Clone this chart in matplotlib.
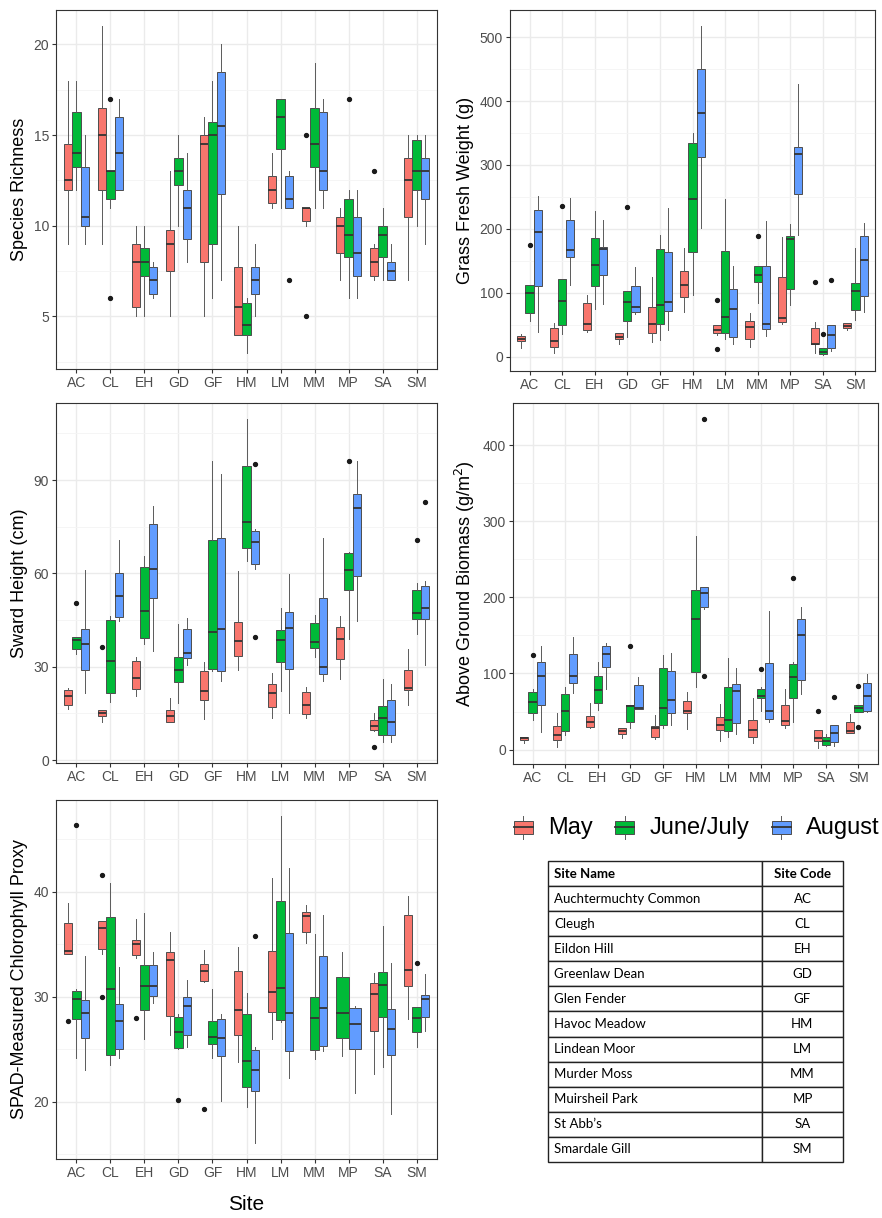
import matplotlib
matplotlib.use("Agg")
import matplotlib.pyplot as plt
from matplotlib.patches import Rectangle
from matplotlib.lines import Line2D
from matplotlib.legend_handler import HandlerBase

plt.rcParams['font.family'] = ['Liberation Sans', 'DejaVu Sans']

sites = ["AC", "CL", "EH", "GD", "GF", "HM", "LM", "MM", "MP", "SA", "SM"]
periods = ["May", "June/July", "August"]
colors = ["#F8766D", "#00BA38", "#619CFF"]

site_names = ["Auchtermuchty Common", "Cleugh", "Eildon Hill", "Greenlaw Dean", "Glen Fender",
              "Havoc Meadow", "Lindean Moor", "Murder Moss", "Muirsheil Park", "St Abb\u2019s",
              "Smardale Gill"]

# box stats per site: (lower whisker, q1, median, q3, upper whisker)
# species richness
rich_may = [(9, 12, 12.5, 14.5, 18), (9, 12, 15, 16.5, 21), (5, 5.5, 8, 9, 10), (5, 7.5, 9, 9.75, 13),
            (5, 8, 14.5, 15, 16), (4, 4, 5.5, 7.75, 10), (11, 11.25, 12, 12.75, 14), (10, 10.25, 11, 11, 11),
            (7, 8.5, 10, 10.5, 11), (7, 7.25, 8, 8.75, 9), (7, 10.5, 12.5, 13.75, 15)]
rich_jun = [(12, 13.25, 14, 16.25, 18), (11, 11.5, 13, 13, 13), (5, 7.25, 8, 8.75, 10), (10, 12.25, 13, 13.75, 15),
            (6, 9, 15, 15.75, 18), (3, 4, 4.5, 5.75, 6), (11, 14.25, 16, 17, 17), (11, 13.25, 14.5, 16.5, 19),
            (6, 8.25, 9.5, 11.5, 12), (7, 8.25, 9.5, 10, 11), (10, 12, 13, 14.75, 15)]
rich_aug = [(9, 10, 10.5, 13.25, 15), (12, 12, 14, 16, 17), (6, 6.25, 7, 7.75, 8), (8, 9.25, 11, 12, 14),
            (7, 11.75, 15.5, 18.5, 20), (5, 6.25, 7, 7.75, 9), (11, 11, 11.5, 12.75, 13), (11, 12, 13, 16.25, 17),
            (6, 7.25, 8.5, 10.5, 12), (7, 7, 7.5, 8, 9), (9, 11.5, 13, 13.75, 15)]
rich_out = [("CL", "June/July", 17), ("CL", "June/July", 6), ("LM", "August", 7), ("MM", "May", 15),
            ("MM", "May", 5), ("MP", "June/July", 17), ("SA", "May", 13)]

# grass fresh weight (g)
gfw_may = [(13, 24.5, 27, 32, 36), (5, 15.6, 24.5, 44, 52), (39, 41, 51.6, 84, 97), (20, 27, 31, 36.5, 37.5),
           (23, 37.5, 51, 77.7, 124), (69, 93, 112, 134, 170.5), (34, 36.5, 42, 49.5, 50), (15, 28, 46, 56, 68),
           (50.6, 54, 60, 124, 187), (5, 19, 20, 45, 54), (41, 45, 48, 52, 52)]
gfw_jun = [(55, 68, 99, 111.6, 112), (36, 49, 87, 121.5, 121.5), (75, 110.5, 143, 185.6, 228), (31, 55, 85, 102, 102),
           (25.5, 51, 80, 168, 191), (96, 164, 246.6, 335, 350), (27, 37.5, 62, 166, 247), (84.5, 117, 128, 141, 141),
           (80, 105, 184, 189, 208), (3, 4.7, 7.3, 13, 13), (57, 73, 102, 115, 170.5)]
gfw_aug = [(39, 110, 195, 230, 251), (112, 156, 167, 214, 248), (83, 128, 168, 172, 214), (67, 70, 78, 110, 140),
           (41, 71, 86, 163, 232.5), (201, 312, 380.6, 451, 517), (20, 31, 75, 106, 142), (32, 43, 51.6, 141, 213),
           (190, 255, 316.5, 328, 426.5), (8, 14, 33, 50, 50), (69, 95, 150.7, 188, 209.6)]
gfw_out = [("AC", "June/July", 175), ("CL", "June/July", 235), ("GD", "June/July", 233.6), ("LM", "May", 89),
           ("LM", "May", 11.5), ("MM", "June/July", 189), ("SA", "May", 117), ("SA", "June/July", 36),
           ("SA", "August", 120)]

# sward height (cm)
sh_may = [(16.5, 17.6, 20.7, 22.6, 23), (12.2, 14, 15.2, 16, 16), (20.7, 22.7, 26.5, 31.9, 33),
          (12.2, 12.2, 14.1, 16.2, 19.9), (13.2, 19.3, 22.3, 28.6, 31.4), (28.9, 33.4, 38.3, 44.4, 60.6),
          (13.6, 17.1, 21.7, 24.3, 28), (13.4, 14.8, 17.7, 21.8, 23.5), (26.2, 32.5, 39, 42.7, 46.2),
          (9.3, 9.5, 10.8, 12.8, 15.1), (17.7, 22.4, 23.1, 28.9, 35.7)]
sh_jun = [(34, 35.6, 38.6, 39.6, 39.6), (18.5, 21.4, 31.9, 45, 46.3), (37.4, 39.2, 48, 62, 65.5),
          (18.2, 25, 28.8, 33, 43.6), (28.7, 29.2, 41.3, 70.6, 96), (64, 68, 76.5, 94.4, 109.5),
          (22.3, 31.5, 38.6, 41.7, 48.8), (33, 36, 37.8, 44, 46.6), (39, 54.6, 61, 66.6, 66.8),
          (5.8, 8.2, 13.4, 17.3, 26.1), (40.6, 45.3, 47.1, 54.8, 57)]
sh_aug = [(21.5, 28.9, 37.2, 42.2, 61), (44.6, 46, 52.7, 60, 70.7), (35, 52, 61.3, 75.8, 81.6),
          (30.5, 32.9, 34.4, 42, 45.5), (25.4, 28.7, 42, 71.5, 92), (61.4, 63.1, 70.1, 73.5, 74.2),
          (15.1, 29.2, 42.4, 47.5, 59.8), (25.5, 27.6, 29.8, 52, 71.5), (44.8, 59.2, 80.9, 85.4, 96.2),
          (5.8, 8.2, 12.2, 19.3, 24.5), (30.6, 45.3, 48.8, 55.9, 57.6)]
sh_out = [("AC", "June/July", 50.4), ("CL", "May", 36.4), ("HM", "August", 95.3), ("HM", "August", 39.5),
          ("MP", "June/July", 96.1), ("SA", "May", 4.3), ("SM", "June/July", 70.6), ("SM", "August", 83)]

# above ground biomass (g/m2)
agb_may = [(9, 13, 14.8, 16.6, 16.6), (4, 12.7, 19.2, 30.5, 47.6), (28.4, 30, 35.8, 43.6, 60.6),
           (14.8, 20.5, 24, 28, 28.8), (13.5, 16.6, 28.8, 30.5, 45), (26.6, 48.4, 51, 63.3, 75),
           (11.3, 25.7, 31.8, 42.3, 59.3), (9.2, 16.6, 25.7, 38.8, 67.2), (28.8, 32.7, 37.5, 58.5, 79),
           (2.6, 11.3, 15.7, 25.7, 25.7), (21.4, 21.4, 24, 36.2, 46.7)]
agb_jun = [(39, 47.5, 62, 76, 79.4), (19.2, 24.4, 50.6, 73.3, 82.5), (52, 61, 77.7, 96.4, 114.7),
           (28, 36.6, 57.6, 58.5, 58.5), (28, 32.7, 54, 106.5, 124.8), (81.6, 102.5, 172, 209, 281),
           (17, 24.4, 39.3, 82.5, 120.4), (51, 67.2, 71, 79, 81.6), (36, 67.6, 95.5, 112, 115),
           (4.8, 6.1, 11.3, 17, 20), (48.9, 48.9, 54, 58.5, 58.5)]
agb_aug = [(23, 59, 97, 115, 136.6), (73.7, 86.8, 96.9, 125, 147.5), (79, 109, 126, 136.6, 140.5),
           (52.8, 52.8, 55, 84.2, 94.7), (32.7, 48.4, 64.6, 103, 127.4), (184, 187.6, 206, 214, 214),
           (20, 34.5, 76.8, 85.5, 107.3), (35.8, 40.6, 50.2, 113.9, 181.5), (72.4, 91, 151, 172, 187.6),
           (4.8, 10.5, 22.3, 31.8, 31.8), (48.9, 51, 70.7, 86.8, 99)]
agb_out = [("AC", "June/July", 124.8), ("GD", "June/July", 136.6), ("HM", "August", 433.7),
           ("HM", "August", 96), ("MM", "June/July", 105.6), ("MP", "June/July", 225.6), ("SA", "May", 50.2),
           ("SA", "August", 69.4), ("SM", "June/July", 83.8), ("SM", "June/July", 30.1)]

# SPAD chlorophyll proxy (no May data for MP)
spad_may = [(34.05, 34.05, 34.4, 37.0, 38.96), (34.1, 34.55, 36.6, 37.2, 37.2), (33.7, 33.96, 35, 35.4, 37.4),
            (26.4, 28.2, 33.5, 34.3, 36.2), (31.4, 31.5, 32.5, 33.13, 34.5), (23.8, 26.4, 28.7, 32.5, 34.7),
            (26, 28.6, 30.5, 34.4, 41.36), (35.1, 36.2, 37.66, 38.04, 38.77), None,
            (22.6, 26.77, 30.28, 31.27, 32.3), (27.9, 31, 32.6, 37.8, 39.65)]
spad_jun = [(24.15, 27.9, 29.8, 30.6, 30.7), (23.5, 24.5, 30.7, 37.6, 40.8), (26, 28.7, 31, 33.07, 38),
            (25, 25.1, 26.65, 28.07, 28.35), (24.2, 25.5, 26.2, 27.66, 30.7), (19.5, 21.4, 23.9, 28.35, 30.35),
            (27.56, 27.75, 30.8, 39.15, 47.2), (24.1, 24.97, 27.94, 30, 36), (24.4, 26.1, 28.5, 31.9, 34.3),
            (23.35, 28.1, 31.08, 32.4, 36.77), (25.25, 26.65, 27.94, 29.05, 29.05)]
spad_aug = [(23, 26.1, 28.45, 29.7, 33.9), (24.15, 25.06, 27.66, 29.3, 32.85), (29.4, 30.1, 31, 33.07, 34.3),
            (25.2, 26.4, 29.15, 30, 31.6), (20.03, 24.4, 26.07, 27.85, 28.35), (16.1, 20.98, 23, 24.9, 25.25),
            (22.3, 24.84, 28.5, 36.1, 42.3), (24.8, 25.3, 28.96, 33.92, 37.75), (20.8, 25.06, 27.4, 28.96, 29.15),
            (18.8, 24.5, 26.9, 28.8, 33.2), (26.7, 28.1, 29.75, 30.2, 32.2)]
spad_out = [("AC", "May", 27.7), ("AC", "June/July", 46.4), ("CL", "May", 41.6), ("CL", "May", 30),
            ("EH", "May", 28), ("GD", "June/July", 20.16), ("GF", "May", 19.3), ("HM", "August", 35.8),
            ("SM", "June/July", 33.2)]

W, H = 882, 1218
fig = plt.figure(figsize=(W / 100, H / 100), dpi=100)


def add_ax(l, t, r, b):
    return fig.add_axes([l / W, 1 - b / H, (r - l) / W, (b - t) / H])


def draw_panel(ax, series, outliers, ylabel, major, minor):
    allv = []
    for s in range(len(sites)):
        present = [k for k in range(3) if series[k][s] is not None]
        w = 0.75 / len(present)
        for j, k in enumerate(present):
            lo, q1, med, q3, hi = series[k][s]
            fl = [v for (site, p, v) in outliers if site == sites[s] and p == periods[k]]
            allv += [lo, hi] + fl
            pos = s - 0.375 + w * (j + 0.5)
            ax.bxp([dict(whislo=lo, q1=q1, med=med, q3=q3, whishi=hi, fliers=fl)],
                   positions=[pos], widths=w, patch_artist=True, showcaps=False, manage_ticks=False,
                   boxprops=dict(facecolor=colors[k], edgecolor="#4d4d4d", linewidth=0.7),
                   whiskerprops=dict(color="#5a5a5a", linewidth=0.7),
                   medianprops=dict(color="#333333", linewidth=1.3),
                   flierprops=dict(marker="o", markersize=2.8, markerfacecolor="#1a1a1a",
                                   markeredgecolor="#1a1a1a", linestyle="none"),
                   zorder=3)
    lo, hi = min(allv), max(allv)
    pad = (hi - lo) * 0.05
    ax.set_ylim(lo - pad, hi + pad)
    ax.set_xlim(-0.6, len(sites) - 0.4)
    ax.set_xticks(range(len(sites)))
    ax.set_xticklabels(sites)
    ax.set_yticks(major)
    ax.set_yticks(minor, minor=True)
    ax.grid(True, which="major", color="#EBEBEB", linewidth=1.0, zorder=0)
    ax.grid(True, which="minor", axis="y", color="#F4F4F4", linewidth=0.6, zorder=0)
    ax.set_axisbelow(True)
    ax.tick_params(which="major", length=3, color="#333333", labelsize=10, labelcolor="#4D4D4D", pad=2)
    ax.tick_params(which="minor", length=0)
    for sp in ax.spines.values():
        sp.set_color("#333333")
        sp.set_linewidth(0.8)
    ax.set_ylabel(ylabel, fontsize=13, labelpad=4)


ax1 = add_ax(56, 10, 437, 369)
draw_panel(ax1, [rich_may, rich_jun, rich_aug], rich_out, "Species Richness",
           [5, 10, 15, 20], [2.5, 7.5, 12.5, 17.5])

ax2 = add_ax(510, 10, 875, 371)
draw_panel(ax2, [gfw_may, gfw_jun, gfw_aug], gfw_out, "Grass Fresh Weight (g)",
           [0, 100, 200, 300, 400, 500], [50, 150, 250, 350, 450])

ax3 = add_ax(56, 403, 437, 763)
draw_panel(ax3, [sh_may, sh_jun, sh_aug], sh_out, "Sward Height (cm)",
           [0, 30, 60, 90], [15, 45, 75, 105])

ax4 = add_ax(513, 403, 878, 764)
draw_panel(ax4, [agb_may, agb_jun, agb_aug], agb_out, "Above Ground Biomass (g/m$^{2}$)",
           [0, 100, 200, 300, 400], [50, 150, 250, 350])

ax5 = add_ax(56, 800, 437, 1159)
draw_panel(ax5, [spad_may, spad_jun, spad_aug], spad_out, "SPAD-Measured Chlorophyll Proxy",
           [20, 30, 40], [15, 25, 35, 45])

fig.text(246 / W, 1 - 1205 / H, "Site", fontsize=15, ha="center", va="center")


# legend key drawn like a ggplot boxplot glyph
class BoxKey(HandlerBase):
    def create_artists(self, legend, orig, xd, yd, width, height, fontsize, trans):
        fc = orig.get_facecolor()
        bw = width * 0.9
        x0 = xd + (width - bw) / 2
        rect = Rectangle((x0, yd + height * 0.05), bw, height * 0.9, facecolor=fc,
                         edgecolor="#4d4d4d", linewidth=0.7, transform=trans)
        cx = xd + width / 2
        med = Line2D([x0, x0 + bw], [yd + height * 0.5] * 2, color="#333333", linewidth=1.3, transform=trans)
        wh1 = Line2D([cx, cx], [yd + height * 0.95, yd + height * 1.25], color="#5a5a5a", linewidth=0.7, transform=trans)
        wh2 = Line2D([cx, cx], [yd - height * 0.25, yd + height * 0.05], color="#5a5a5a", linewidth=0.7, transform=trans)
        return [wh1, wh2, rect, med]


handles = [Rectangle((0, 0), 1, 1, facecolor=c) for c in colors]
fig.legend(handles, periods, handler_map={Rectangle: BoxKey()}, loc="center",
           bbox_to_anchor=(696 / W, 1 - 828 / H), ncol=3, frameon=False, fontsize=17,
           handlelength=0.9, handleheight=0.6, handletextpad=0.6, columnspacing=0.9,
           borderpad=0.1)

# site table
axt = add_ax(548, 861, 843, 1162)
axt.axis("off")
rows = [[n, c] for n, c in zip(site_names, sites)]
tbl = axt.table(cellText=rows, colLabels=["Site Name", "Site Code"], colWidths=[0.725, 0.275],
                bbox=[0, 0, 1, 1])
tbl.auto_set_font_size(False)
for (r, c), cell in tbl.get_celld().items():
    cell.set_edgecolor("#222222")
    cell.set_linewidth(1.0)
    txt = cell.get_text()
    txt.set_fontfamily(["Lato", "DejaVu Sans"])
    txt.set_fontsize(9.5)
    if c == 0:
        cell.set_text_props(ha="left")
        cell.PAD = 0.03
    else:
        cell.set_text_props(ha="center")
    if r == 0:
        txt.set_fontweight("bold")

fig.savefig("out.png", dpi=100)
